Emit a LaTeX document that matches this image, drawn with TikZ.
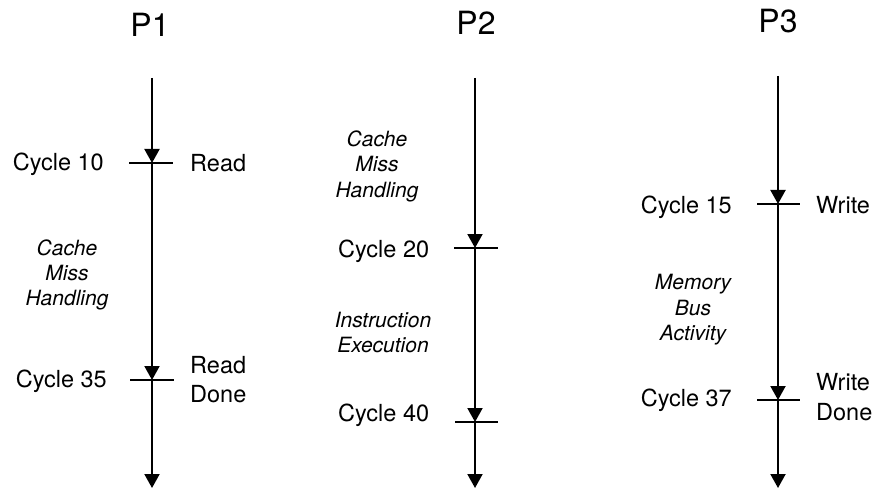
\documentclass[tikz,border=0pt]{standalone}
\usepackage{fontspec}
\setmainfont{TeX Gyre Heros}
\usetikzlibrary{arrows.meta}

\begin{document}
\begin{tikzpicture}[x=1pt, y=-1pt,
  timeline/.style={line width=2pt, -{Triangle[width=15pt,length=14pt]}},
  tickmark/.style={line width=2pt},
  proc/.style={font=\fontsize{32}{36}\selectfont, inner sep=0pt},
  evt/.style={font=\fontsize{23.5}{29.5}\selectfont, inner sep=0pt, align=left},
  phase/.style={font=\fontsize{21}{25.2}\selectfont\itshape, inner sep=0pt, align=center}]

\useasboundingbox (0,0) rectangle (875,489);

% ---------- processor P1 ----------
\node[proc, anchor=base] (p1) at (150,37) {P1};
\coordinate (p1top) at (152,78);
\coordinate (p1e1)  at (152,163);
\coordinate (p1e2)  at (152,380);
\coordinate (p1end) at (152,488);
\draw[timeline] (p1top) -- (p1e1);
\draw[timeline] (p1e1) -- (p1e2);
\draw[timeline] (p1e2) -- (p1end);
\draw[tickmark] ([xshift=-23pt]p1e1) -- ([xshift=21pt]p1e1);
\draw[tickmark] ([xshift=-22pt]p1e2) -- ([xshift=22pt]p1e2);
\node[evt, anchor=base east] (p1c10) at (104,171) {Cycle 10};
\node[evt, anchor=base west] (p1rd)  at (190,172) {Read};
\node[phase] (p1cm) at (67,275.2) {Cache\\Miss\\Handling};
\node[evt, anchor=base east] (p1c35) at (107,387) {Cycle 35};
\node[evt, anchor=west] (p1rdd) at (190,379.6) {Read\\Done};

% ---------- processor P2 ----------
\node[proc, anchor=base] (p2) at (476,35) {P2};
\coordinate (p2top) at (475,78);
\coordinate (p2e1)  at (475,248);
\coordinate (p2e2)  at (475,422);
\coordinate (p2end) at (475,488);
\draw[timeline] (p2top) -- (p2e1);
\draw[timeline] (p2e1) -- (p2e2);
\draw[timeline] (p2e2) -- (p2end);
\draw[tickmark] ([xshift=-21pt]p2e1) -- ([xshift=23pt]p2e1);
\draw[tickmark] ([xshift=-20pt]p2e2) -- ([xshift=23pt]p2e2);
\node[phase] (p2cm) at (377,166.4) {Cache\\Miss\\Handling};
\node[evt, anchor=base west] (p2c20) at (338,257) {Cycle 20};
\node[phase] (p2ie) at (383,332.5) {Instruction\\Execution};
\node[evt, anchor=base west] (p2c40) at (338,421) {Cycle 40};

% ---------- processor P3 ----------
\node[proc, anchor=base] (p3) at (778,33) {P3};
\coordinate (p3top) at (778,76);
\coordinate (p3e1)  at (778,204);
\coordinate (p3e2)  at (778,400);
\coordinate (p3end) at (778,488);
\draw[timeline] (p3top) -- (p3e1);
\draw[timeline] (p3e1) -- (p3e2);
\draw[timeline] (p3e2) -- (p3end);
\draw[tickmark] ([xshift=-21pt]p3e1) -- ([xshift=22pt]p3e1);
\draw[tickmark] ([xshift=-21pt]p3e2) -- ([xshift=22pt]p3e2);
\node[evt, anchor=base east] (p3c15) at (732,213) {Cycle 15};
\node[evt, anchor=base west] (p3wr)  at (816,213) {Write};
\node[phase] (p3mb) at (693,309.7) {Memory\\Bus\\Activity};
\node[evt, anchor=base east] (p3c37) at (732,406) {Cycle 37};
\node[evt, anchor=west] (p3wd) at (816,397) {Write\\Done};
\end{tikzpicture}
\end{document}
